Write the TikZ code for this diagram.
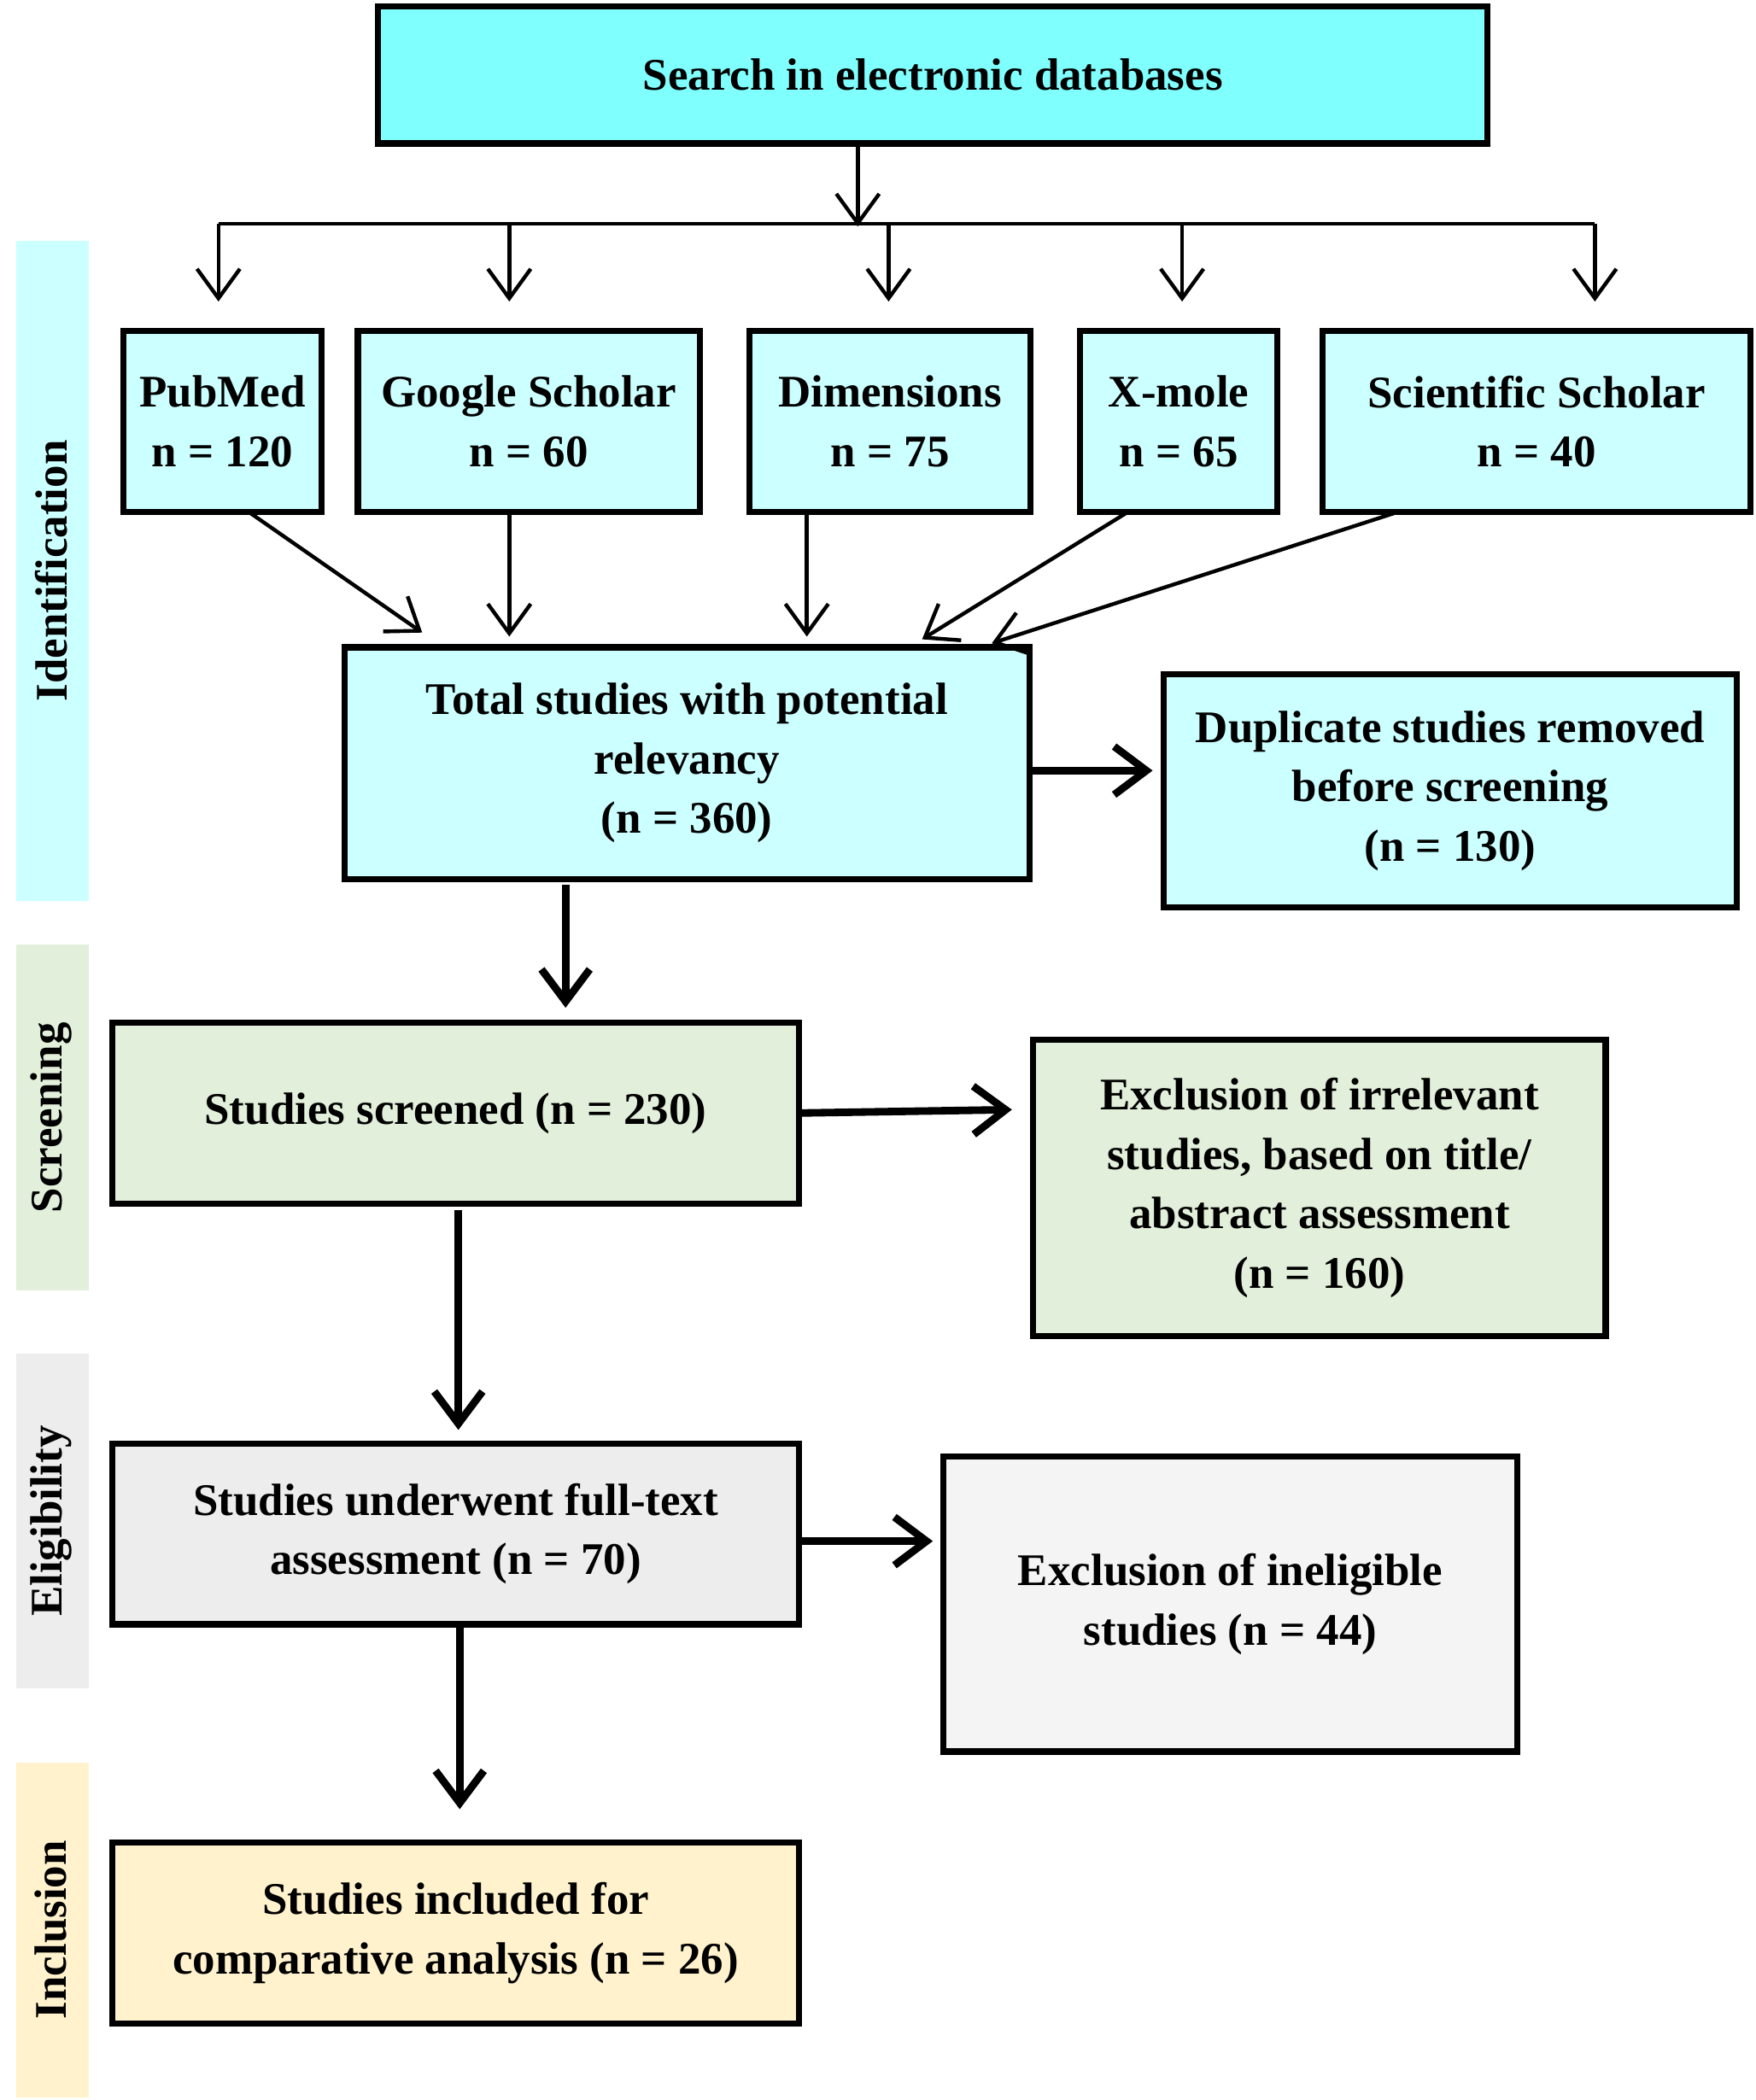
\documentclass[tikz,border=0pt]{standalone}
\usepackage{fontspec}
\setmainfont{Liberation Serif}
\usetikzlibrary{arrows.meta, positioning}
\definecolor{idcyan}{HTML}{80FFFF}
\definecolor{idlight}{HTML}{CCFFFF}
\definecolor{scrgreen}{HTML}{E2EFDA}
\definecolor{eliggray}{HTML}{EDEDED}
\definecolor{inclyellow}{HTML}{FFF2CC}
\tikzset{
	box/.style={draw, line width=1.3pt, align=center, inner sep=0pt, font=\bfseries\fontsize{9.6}{12.6}\selectfont},
	band/.style={inner sep=0pt, font=\bfseries\fontsize{9.6}{12}\selectfont, rotate=90},
	thin/.style={-{Straight Barb[length=2.2mm,width=3.2mm]}, line width=0.8pt},
	fat/.style={-{Straight Barb[length=2.4mm,width=3.6mm]}, line width=1.6pt},
}
\begin{document}
\begin{tikzpicture}
	\useasboundingbox (0,0) rectangle (13.1,-15.67);
	% phase bands
	\fill[idlight] (0.12,-1.80) rectangle (0.66,-6.72);
	\fill[scrgreen] (0.12,-7.05) rectangle (0.66,-9.63);
	\fill[eliggray] (0.12,-10.10) rectangle (0.66,-12.60);
	\fill[inclyellow] (0.12,-13.15) rectangle (0.66,-15.65);
	\node[band] (lid) at (0.38,-4.26) {Identification};
	\node[band] (lscr) at (0.38,-8.34) {Screening};
	\node[band] (lelig) at (0.38,-11.35) {Eligibility};
	\node[band] (linc) at (0.38,-14.40) {Inclusion};
	% boxes
	\node[box, fill=idcyan, minimum width=8.28cm, minimum height=1.02cm] (search) at (6.96,-0.56) {Search in electronic databases};
	\node[box, fill=idlight, minimum width=1.48cm, minimum height=1.35cm] (pubmed) at (1.66,-3.145) {PubMed\\n = 120};
	\node[box, fill=idlight, minimum width=2.55cm, minimum height=1.35cm] (google) at (3.945,-3.145) {Google Scholar\\n = 60};
	\node[box, fill=idlight, minimum width=2.10cm, minimum height=1.35cm] (dimen) at (6.64,-3.145) {Dimensions\\n = 75};
	\node[box, fill=idlight, minimum width=1.47cm, minimum height=1.35cm] (xmole) at (8.795,-3.145) {X-mole\\n = 65};
	\node[box, fill=idlight, minimum width=3.19cm, minimum height=1.35cm] (scisch) at (11.465,-3.145) {Scientific Scholar\\n = 40};
	\node[box, fill=idlight, minimum width=5.11cm, minimum height=1.73cm] (total) at (5.125,-5.695) {Total studies with potential\\relevancy\\(n = 360)};
	\node[box, fill=idlight, minimum width=4.28cm, minimum height=1.74cm] (dupl) at (10.82,-5.90) {Duplicate studies removed\\before screening\\(n = 130)};
	\node[box, fill=scrgreen, minimum width=5.12cm, minimum height=1.35cm] (screened) at (3.40,-8.305) {Studies screened (n = 230)};
	\node[box, fill=scrgreen, minimum width=4.27cm, minimum height=2.21cm] (irrel) at (9.845,-8.865) {Exclusion of irrelevant\\studies, based on title/\\abstract assessment\\(n = 160)};
	\node[box, fill=eliggray, minimum width=5.12cm, minimum height=1.35cm] (fulltext) at (3.40,-11.445) {Studies underwent full-text\\assessment (n = 70)};
	\node[box, fill=eliggray!60, minimum width=4.28cm, minimum height=2.20cm] (inelig) at (9.18,-11.97) {Exclusion of ineligible\\studies (n = 44)};
	\node[box, fill=inclyellow, minimum width=5.12cm, minimum height=1.35cm] (included) at (3.40,-14.425) {Studies included for\\comparative analysis (n = 26)};
	% distribution line
	\coordinate (split) at (6.40,-1.67);
	\draw[thin] (search.south -| split) -- ([yshift=-0.02cm]split);
	\draw[line width=0.8pt] (1.63,-1.67) -- (11.90,-1.67);
	\foreach \x/\t in {1.63/pubmed, 3.80/google, 6.63/dimen, 8.82/xmole, 11.90/scisch}
		\draw[thin] (\x,-1.67) -- (\x,-2.25);
	% sources to total
	\draw[thin] (1.87,-3.83) -- (3.15,-4.72);
	\draw[thin] (google.south -| 3.80,0) -- (3.80,-4.75);
	\draw[thin] (6.02,-3.83) -- (6.02,-4.75);
	\draw[thin] (8.40,-3.83) -- (6.88,-4.77);
	\draw[thin] (10.40,-3.83) -- (7.40,-4.80);
	% main flow
	\draw[fat] (total.east |- 0,-5.75) -- (8.60,-5.75);
	\draw[fat] (4.22,-6.60) -- (4.22,-7.52);
	\draw[fat] (screened.east) -- (7.55,-8.28);
	\draw[fat] (3.42,-9.03) -- (3.42,-10.67);
	\draw[fat] (5.96,-11.50) -- (6.96,-11.50);
	\draw[fat] (3.43,-12.13) -- (3.43,-13.50);
\end{tikzpicture}
\end{document}
